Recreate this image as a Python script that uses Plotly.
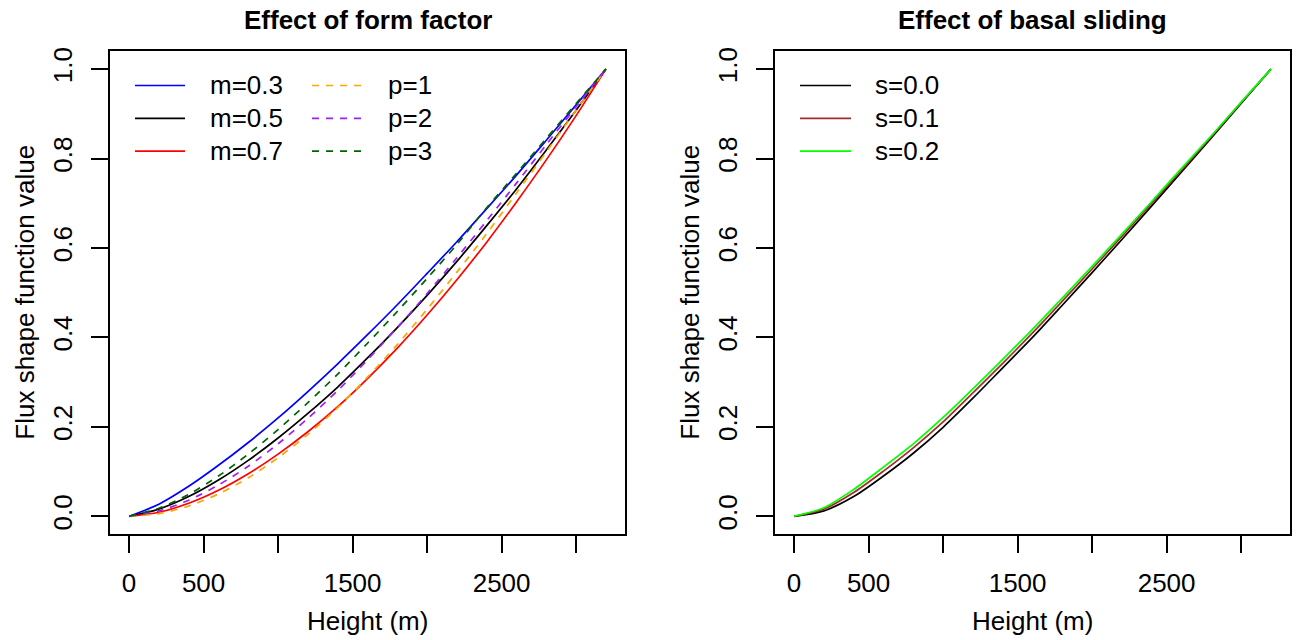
import plotly.graph_objects as go

# ---------------- data ----------------
height_m = [0, 200, 400, 600, 800, 1000, 1200, 1400, 1600, 1800, 2000,
            2200, 2400, 2600, 2800, 3000, 3200]

# Left panel: effect of form factor
m_03 = [0, 0.027, 0.067, 0.114, 0.165, 0.220, 0.279, 0.341, 0.406, 0.473, 0.543,
        0.614, 0.688, 0.763, 0.841, 0.920, 1.0]
m_05 = [0, 0.016, 0.044, 0.081, 0.125, 0.175, 0.230, 0.289, 0.354, 0.422, 0.494,
        0.570, 0.650, 0.732, 0.819, 0.908, 1.0]
m_07 = [0, 0.009, 0.029, 0.058, 0.095, 0.139, 0.189, 0.245, 0.308, 0.376, 0.450,
        0.529, 0.613, 0.703, 0.797, 0.896, 1.0]
p_1 = [0, 0.006, 0.023, 0.050, 0.086, 0.131, 0.183, 0.243, 0.311, 0.384, 0.463,
       0.546, 0.632, 0.723, 0.815, 0.908, 1.0]
p_2 = [0, 0.012, 0.036, 0.070, 0.112, 0.162, 0.219, 0.281, 0.350, 0.422, 0.498,
       0.578, 0.661, 0.745, 0.831, 0.916, 1.0]
p_3 = [0, 0.018, 0.049, 0.090, 0.139, 0.194, 0.254, 0.318, 0.387, 0.458, 0.532,
       0.608, 0.690, 0.767, 0.845, 0.923, 1.0]

# Right panel: effect of basal sliding
s_00 = [0, 0.012, 0.044, 0.090, 0.141, 0.199, 0.264, 0.332, 0.400, 0.472, 0.545,
        0.619, 0.694, 0.770, 0.846, 0.923, 1.0]
s_01 = [0, 0.016, 0.053, 0.101, 0.153, 0.211, 0.276, 0.342, 0.410, 0.481, 0.553,
        0.626, 0.700, 0.774, 0.849, 0.925, 1.0]
s_02 = [0, 0.019, 0.060, 0.110, 0.162, 0.221, 0.285, 0.351, 0.418, 0.488, 0.559,
        0.631, 0.704, 0.778, 0.851, 0.926, 1.0]

x_tickvals = [0, 500, 1000, 1500, 2000, 2500, 3000]
x_ticktext = ["0", "500", "", "1500", "", "2500", ""]
y_tickvals = [0, 0.2, 0.4, 0.6, 0.8, 1.0]
y_ticktext = ["0.0", "0.2", "0.4", "0.6", "0.8", "1.0"]

left_series = [("m=0.3", m_03, "#0000FF", "solid"),
               ("m=0.5", m_05, "#000000", "solid"),
               ("m=0.7", m_07, "#FF0000", "solid"),
               ("p=1", p_1, "#FFA500", "7px,7px"),
               ("p=2", p_2, "#A020F0", "7px,7px"),
               ("p=3", p_3, "#006400", "7px,7px")]
right_series = [("s=0.0", s_00, "#000000", "solid"),
                ("s=0.1", s_01, "#A52A2A", "solid"),
                ("s=0.2", s_02, "#00FF00", "solid")]

# ---------------- layout helpers ----------------
W, H = 1296, 640
FONT = "Liberation Sans, Arial, Helvetica, sans-serif"
FS = 26
LW = 1.7


def fx(px):
    return px / W


def fy(py):
    return 1 - py / H


BOX_TOP, BOX_BOT = 47.5, 533.5
L_BOX = (110, 625)
R_BOX = (775, 1290)

fig = go.Figure()

for name, vals, col, dash in left_series:
    fig.add_trace(go.Scatter(x=height_m, y=vals, mode="lines", name=name,
                             line=dict(color=col, width=LW, dash=dash,
                                       shape="spline", smoothing=0.8),
                             xaxis="x", yaxis="y", showlegend=False))
for name, vals, col, dash in right_series:
    fig.add_trace(go.Scatter(x=height_m, y=vals, mode="lines", name=name,
                             line=dict(color=col, width=LW, dash=dash,
                                       shape="spline", smoothing=0.8),
                             xaxis="x2", yaxis="y2", showlegend=False))

common_x = dict(range=[-128, 3328], showgrid=False, zeroline=False,
                showline=True, mirror=True, linecolor="black", linewidth=LW,
                ticks="outside", ticklen=17, tickwidth=LW, tickcolor="black",
                tickvals=x_tickvals, ticktext=x_ticktext,
                tickfont=dict(family=FONT, size=FS, color="black"),
                ticklabelstandoff=8)
common_y = dict(range=[-0.04, 1.04], showgrid=False, zeroline=False,
                showline=True, mirror=True, linecolor="black", linewidth=LW,
                ticks="outside", ticklen=17, tickwidth=LW, tickcolor="black",
                tickvals=y_tickvals, ticktext=y_ticktext, tickangle=-90,
                tickfont=dict(family=FONT, size=FS, color="black"),
                ticklabelstandoff=9)

ydom = [fy(BOX_BOT), fy(BOX_TOP)]
fig.update_layout(
    width=W, height=H,
    margin=dict(l=0, r=0, t=0, b=0),
    paper_bgcolor="white", plot_bgcolor="white",
    font=dict(family=FONT, size=FS, color="black"),
    xaxis=dict(domain=[fx(L_BOX[0]), fx(L_BOX[1])], anchor="y", **common_x),
    yaxis=dict(domain=ydom, anchor="x", **common_y),
    xaxis2=dict(domain=[fx(R_BOX[0]), fx(R_BOX[1])], anchor="y2", **common_x),
    yaxis2=dict(domain=ydom, anchor="x2", **common_y),
    showlegend=False,
)

annotations = []
shapes = []
panels = [(L_BOX, "Effect of form factor"), (R_BOX, "Effect of basal sliding")]
for (x0, x1), title in panels:
    cx = (x0 + x1) / 2
    annotations.append(dict(text="<b>%s</b>" % title, x=fx(cx), y=fy(16),
                            xref="paper", yref="paper", showarrow=False,
                            xanchor="center", yanchor="middle",
                            font=dict(family=FONT, size=26, color="black")))
    annotations.append(dict(text="Height (m)", x=fx(cx), y=fy(621),
                            xref="paper", yref="paper", showarrow=False,
                            xanchor="center", yanchor="middle",
                            font=dict(family=FONT, size=FS, color="black")))
    annotations.append(dict(text="Flux shape function value", x=fx(x0 - 85),
                            y=fy((BOX_TOP + BOX_BOT) / 2), textangle=-90,
                            xref="paper", yref="paper", showarrow=False,
                            xanchor="center", yanchor="middle",
                            font=dict(family=FONT, size=FS, color="black")))

# legends (drawn as in R: line sample + label)
rows_y = [82, 115, 148]


def legend_column(items, lx0, lx1, tx):
    for (name, _vals, col, dash), yy in zip(items, rows_y):
        shapes.append(dict(type="line", xref="paper", yref="paper",
                           x0=fx(lx0), x1=fx(lx1), y0=fy(yy), y1=fy(yy),
                           line=dict(color=col, width=LW, dash=dash)))
        annotations.append(dict(text=name, x=fx(tx), y=fy(yy), xref="paper",
                                yref="paper", showarrow=False,
                                xanchor="left", yanchor="middle",
                                font=dict(family=FONT, size=FS, color="black")))


legend_column(left_series[:3], 135, 185, 208)
legend_column(left_series[3:], 312, 362, 386)
legend_column(right_series, 800, 851, 873)

fig.update_layout(annotations=annotations, shapes=shapes)
fig.write_html("out.html")
